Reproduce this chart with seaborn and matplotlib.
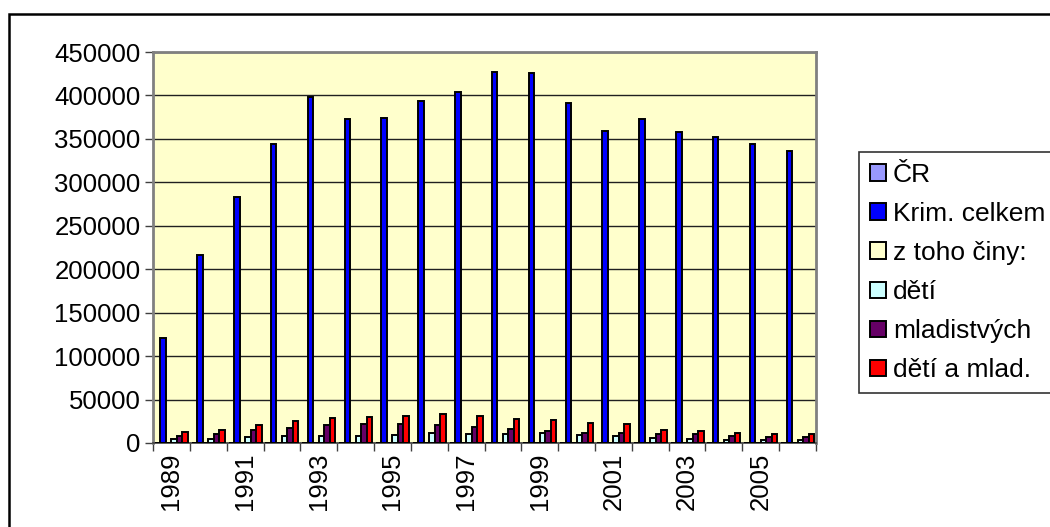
import matplotlib
matplotlib.use("Agg")
import matplotlib.pyplot as plt
import seaborn as sns
import pandas as pd
from matplotlib.patches import Rectangle

years = [str(y) for y in range(1989, 2007)]
series_names = ["ČR", "Krim. celkem", "z toho činy:", "dětí", "mladistvých", "dětí a mlad."]

cr = [0] * 18
krim_celkem = [120768, 216852, 282998, 344060, 398505, 372880, 374365, 393421, 403654,
               426626, 426232, 391469, 358577, 372341, 357740, 351629, 344060, 336446]
z_toho = [0] * 18
deti = [4500, 5000, 6500, 7500, 8500, 8500, 9000, 11000, 10500,
        10000, 11000, 9000, 8500, 5500, 5000, 3500, 3500, 3500]
mladistvych = [8500, 10500, 14500, 17500, 20500, 21500, 21500, 21000, 18500,
               16000, 14000, 12000, 11000, 10000, 10500, 8000, 7000, 7000]
deti_a_mlad = [13000, 15500, 21000, 25000, 29000, 30000, 31500, 33000, 30500,
               27500, 26500, 23500, 21500, 15500, 14000, 11000, 10000, 10000]

values = [cr, krim_celkem, z_toho, deti, mladistvych, deti_a_mlad]
colors = ["#9999FF", "#0000FF", "#FFFFCC", "#CCFFFF", "#660066", "#FF0000"]

rows = []
for name, vals in zip(series_names, values):
    for y, v in zip(years, vals):
        rows.append({"rok": y, "serie": name, "hodnota": v})
df = pd.DataFrame(rows)

plt.rcParams["font.family"] = ["Liberation Sans", "DejaVu Sans"]

fig = plt.figure(figsize=(10.5, 5.27), dpi=100)
ax = fig.add_axes([153 / 1050, 1 - 443 / 527, (816 - 153) / 1050, (443 - 52) / 527])

sns.barplot(data=df, x="rok", y="hodnota", hue="serie", order=years,
            hue_order=series_names, palette=colors, saturation=1, width=0.9, gap=0,
            edgecolor="black", linewidth=1.4, ax=ax, errorbar=None, zorder=3)

ax.set_facecolor("#FFFFCC")
ax.set_ylim(0, 450000)
ax.set_xlim(-0.5, 17.5)
ax.set_yticks(range(0, 450001, 50000))
ax.set_yticklabels([str(v) for v in range(0, 450001, 50000)], fontsize=18.5)
ax.yaxis.grid(True, color="#202020", linewidth=1.0, zorder=0)
ax.set_axisbelow(True)

label_pos = list(range(0, 18, 2))
ax.set_xticks(label_pos)
ax.set_xticklabels([years[i] for i in label_pos], rotation=90, fontsize=18.5)
ax.tick_params(axis="x", which="major", length=0, pad=7)
ax.set_xticks([i - 0.5 for i in range(19)], minor=True)
ax.tick_params(axis="x", which="minor", length=6, color="#404040", width=1)
ax.tick_params(axis="y", length=6, color="#404040", width=1, pad=3)
ax.set_xlabel("")
ax.set_ylabel("")

for s in ["left", "top", "right"]:
    ax.spines[s].set_color("#808080")
    ax.spines[s].set_linewidth(2)
ax.spines["bottom"].set_color("#404040")
ax.spines["bottom"].set_linewidth(1.2)

handles, labels = ax.get_legend_handles_labels()
ax.get_legend().remove()
leg = fig.legend(handles, labels, loc="upper left",
                 bbox_to_anchor=(859 / 1050, 1 - 152 / 527), frameon=True,
                 fancybox=False, edgecolor="black", fontsize=19,
                 handlelength=0.6, handleheight=0.6, handletextpad=0.27,
                 labelspacing=0.57, borderpad=0.42, borderaxespad=0)
leg.get_frame().set_linewidth(1.2)

fig.patches.append(Rectangle((9 / 1050, -0.1), 1.2, 1 - 14 / 527 + 0.1,
                             transform=fig.transFigure, fill=False,
                             edgecolor="black", linewidth=1.8))

fig.savefig("out.png", dpi=100)
